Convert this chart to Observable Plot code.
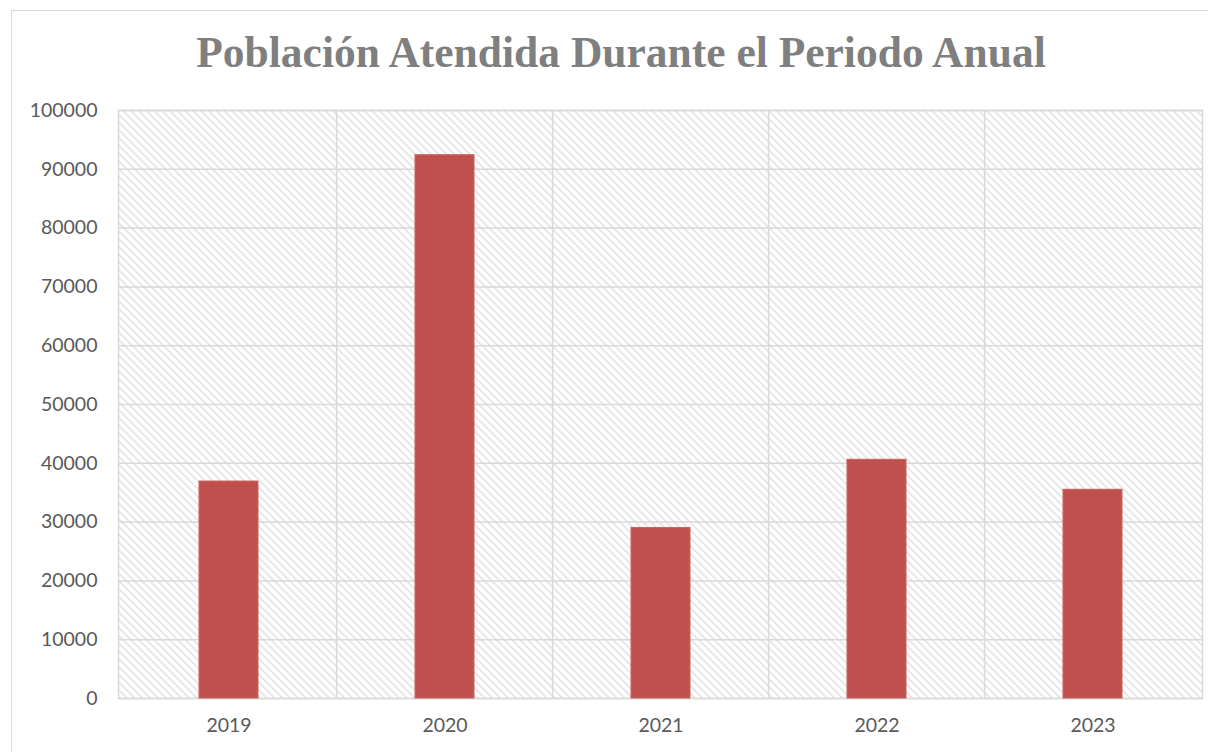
<!DOCTYPE html>
<html>
<head>
<meta charset="utf-8">
<script src="https://cdn.jsdelivr.net/npm/d3@7"></script>
<script src="https://cdn.jsdelivr.net/npm/@observablehq/plot@0.6"></script>
<style>
  html, body { margin: 0; padding: 0; background: #fff; overflow: hidden; width: 1208px; height: 752px; }
  #wrap { position: relative; width: 1208px; height: 752px; overflow: hidden; }
  #box { position: absolute; left: 11px; top: 10px; width: 1400px; height: 900px; border: 1.5px solid #d9d9d9; box-sizing: border-box; }
  #title { position: absolute; left: 0; top: 29px; width: 1242px; text-align: center; font-family: "Liberation Serif", serif; font-weight: bold; font-size: 43.5px; color: #7f7f7f; line-height: 1.1; }
  #chart { position: absolute; left: 0; top: 90px; }
</style>
</head>
<body>
<div id="wrap">
  <div id="box"></div>
  <div id="title">Población Atendida Durante el Periodo Anual</div>
  <div id="chart"></div>
</div>
<script>
const years = ["2019", "2020", "2021", "2022", "2023"];
const values = [36900, 92400, 29000, 40600, 35500];
const yTicks = [0, 10000, 20000, 30000, 40000, 50000, 60000, 70000, 80000, 90000, 100000];

const data = years.map((y, i) => ({year: y, value: values[i]}));

const W = 1208, ML = 118, MR = 6;
const step = (W - ML - MR) / years.length;

const plot = Plot.plot({
  width: W,
  height: 662,
  marginLeft: ML,
  marginRight: MR,
  marginTop: 20,
  marginBottom: 54,
  style: {fontFamily: "Lato, 'Liberation Sans', sans-serif", fontSize: "19.5px", color: "#595959", background: "transparent"},
  x: {domain: years, paddingInner: 0.728, paddingOuter: 0.364, label: null, tickSize: 0, tickPadding: 20},
  y: {domain: [0, 100000], ticks: yTicks, label: null, tickSize: 0, tickPadding: 21, tickFormat: d => String(d)},
  marks: [
    Plot.frame({fill: "url(#hatch)", stroke: "#d9d9d9", strokeWidth: 1.5}),
    Plot.gridY(yTicks, {stroke: "#d9d9d9", strokeOpacity: 1, strokeWidth: 1.5}),
    Plot.ruleX(years.slice(1), {x: d => d, dx: -step / 2, stroke: "#d9d9d9", strokeWidth: 1.5}),
    Plot.barY(data, {x: "year", y: "value", fill: "#c0504d", stroke: "#c8625f", strokeWidth: 1})
  ]
});

const defs = d3.select(plot).insert("defs", ":first-child");
const pat = defs.append("pattern")
  .attr("id", "hatch")
  .attr("patternUnits", "userSpaceOnUse")
  .attr("width", 5.5).attr("height", 5.5)
  .attr("patternTransform", "rotate(-45)");
pat.append("rect").attr("width", 5.5).attr("height", 5.5).attr("fill", "#ffffff");
pat.append("rect").attr("x", 0).attr("y", 0).attr("width", 1.5).attr("height", 5.5).attr("fill", "#e0e0e0");

document.getElementById("chart").appendChild(plot);
</script>
</body>
</html>
